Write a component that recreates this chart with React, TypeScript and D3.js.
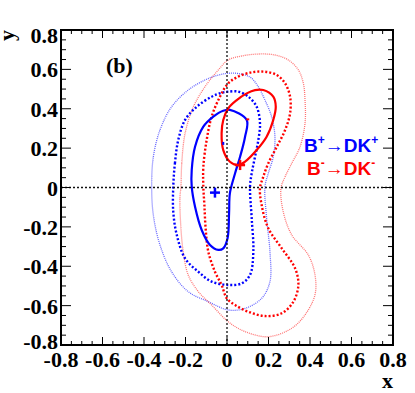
import React from "react";
import * as d3 from "d3";

const width = 415;
const height = 393;
const margin = { top: 30, right: 22, bottom: 48, left: 61 };

// axis ticks
const tickValues = [-0.8, -0.6, -0.4, -0.2, 0, 0.2, 0.4, 0.6, 0.8];
const tickLabels = ["-0.8", "-0.6", "-0.4", "-0.2", "0", "0.2", "0.4", "0.6", "0.8"];

// B+ -> DK+ contours (x, y)
const bPlus1Sigma: [number, number][] = [
  [0.014, 0.394], [0.095, 0.343], [0.087, 0.258], [0.063, 0.156], [0.039, 0.072],
  [0.014, -0.029], [0.01, -0.13], [0.003, -0.256], [-0.018, -0.309], [-0.042, -0.317],
  [-0.082, -0.292], [-0.122, -0.216], [-0.154, -0.098], [-0.17, 0.004], [-0.17, 0.089],
  [-0.154, 0.207], [-0.114, 0.309], [-0.066, 0.36], [-0.018, 0.39],
];
const bPlus2Sigma: [number, number][] = [
  [-0.259, 0.004], [-0.251, 0.123], [-0.235, 0.241], [-0.202, 0.343], [-0.146, 0.41],
  [-0.074, 0.461], [-0.026, 0.481], [0.006, 0.487], [0.054, 0.487], [0.103, 0.461],
  [0.143, 0.41], [0.159, 0.326], [0.151, 0.241], [0.135, 0.156], [0.119, 0.072],
  [0.111, 0.004], [0.119, -0.156], [0.127, -0.326], [0.111, -0.444], [0.071, -0.487],
  [0.006, -0.495], [-0.074, -0.478], [-0.138, -0.428], [-0.202, -0.36], [-0.242, -0.241],
  [-0.259, -0.123],
];
const bPlus3Sigma: [number, number][] = [
  [-0.363, 0.004], [-0.355, 0.156], [-0.323, 0.292], [-0.267, 0.41], [-0.187, 0.495],
  [-0.106, 0.546], [-0.042, 0.571], [0.006, 0.58], [0.053, 0.579], [0.111, 0.561],
  [0.149, 0.515], [0.183, 0.444], [0.215, 0.36], [0.231, 0.258], [0.223, 0.156],
  [0.199, 0.072], [0.183, 0.004], [0.191, -0.156], [0.207, -0.326], [0.207, -0.478],
  [0.167, -0.563], [0.087, -0.614], [0.006, -0.622], [-0.09, -0.58], [-0.187, -0.529],
  [-0.267, -0.428], [-0.323, -0.292], [-0.355, -0.14],
];

// B- -> DK- contours (x, y)
const bMinus1Sigma: [number, number][] = [
  [0.175, 0.495], [0.223, 0.461], [0.235, 0.41], [0.223, 0.343], [0.191, 0.258],
  [0.143, 0.19], [0.087, 0.131], [0.054, 0.114], [0.014, 0.131], [-0.018, 0.19],
  [-0.026, 0.275], [-0.018, 0.343], [0.006, 0.402], [0.047, 0.444], [0.095, 0.478],
  [0.135, 0.495],
];
const bMinus2Sigma: [number, number][] = [
  [-0.114, 0.004], [-0.114, 0.106], [-0.098, 0.241], [-0.074, 0.36], [-0.034, 0.461],
  [0.006, 0.529], [0.054, 0.563], [0.119, 0.585], [0.183, 0.588], [0.24, 0.571],
  [0.28, 0.529], [0.304, 0.461], [0.304, 0.377], [0.28, 0.292], [0.24, 0.207],
  [0.199, 0.123], [0.175, 0.055], [0.159, -0.004], [0.167, -0.089], [0.199, -0.207],
  [0.264, -0.309], [0.328, -0.41], [0.344, -0.495], [0.32, -0.58], [0.264, -0.639],
  [0.183, -0.653], [0.103, -0.631], [0.039, -0.597], [-0.001, -0.563], [-0.026, -0.495],
  [-0.058, -0.428], [-0.09, -0.326], [-0.103, -0.207], [-0.109, -0.089],
];
const bMinus3Sigma: [number, number][] = [
  [-0.222, 0.004], [-0.218, 0.123], [-0.202, 0.275], [-0.162, 0.41], [-0.106, 0.512],
  [-0.042, 0.597], [0.006, 0.648], [0.071, 0.668], [0.151, 0.678], [0.231, 0.673],
  [0.295, 0.648], [0.344, 0.597], [0.368, 0.529], [0.376, 0.444], [0.376, 0.326],
  [0.352, 0.207], [0.312, 0.123], [0.28, 0.055], [0.26, -0.004], [0.271, -0.123],
  [0.312, -0.241], [0.392, -0.343], [0.424, -0.444], [0.424, -0.545], [0.376, -0.647],
  [0.312, -0.715], [0.199, -0.758], [0.087, -0.732], [0.006, -0.682], [-0.074, -0.597],
  [-0.138, -0.529], [-0.187, -0.444], [-0.211, -0.326], [-0.223, -0.19], [-0.227, -0.055],
];

// best-fit points and secondary markers
const bPlusCenter: [number, number] = [-0.058, -0.026];
const bMinusCenter: [number, number] = [0.063, 0.114];
const bPlusDot: [number, number] = [-0.018, 0.224];
const bMinusDot: [number, number] = [0.1, 0.346];

const BLUE = "#0000ff";
const RED = "#ff0000";
const serif = "'Liberation Serif', 'Times New Roman', serif";
const sans = "'Liberation Sans', Arial, sans-serif";

const App = () => {
  const x = d3.scaleLinear().domain([-0.8, 0.8]).range([margin.left, width - margin.right]);
  const y = d3.scaleLinear().domain([-0.8, 0.8]).range([height - margin.bottom, margin.top]);
  const x0 = x(-0.8), x1 = x(0.8), y0 = y(-0.8), y1 = y(0.8);

  const line = d3
    .line<[number, number]>()
    .x((d) => x(d[0]))
    .y((d) => y(d[1]))
    .curve(d3.curveCatmullRomClosed.alpha(0.5));

  const minorTicks = d3.range(-16, 17).map((i) => i * 0.05);
  const isMajor = (v: number) => Math.abs(v * 5 - Math.round(v * 5)) < 1e-6;

  // end labels are pulled inside the frame a little, like the original
  const yLabelShift = (v: number) => (v === 0.8 ? 5 : v === -0.8 ? -4 : 0);

  const cross = (p: [number, number], color: string, key: string) => {
    const cx = x(p[0]);
    const cy = y(p[1]);
    return (
      <g key={key} stroke={color} strokeWidth={2.5}>
        <line x1={cx - 5} x2={cx + 5} y1={cy} y2={cy} />
        <line x1={cx} x2={cx} y1={cy - 5} y2={cy + 5} />
      </g>
    );
  };

  return (
    <svg
      width={width}
      height={height}
      style={{ position: "absolute", left: 0, top: 0, background: "#fff" }}
    >
      <rect x={0} y={0} width={width} height={height} fill="#fff" />

      {/* outer (light) contours */}
      <path d={line(bPlus3Sigma) || ""} fill="none" stroke={BLUE} strokeOpacity={0.6} strokeWidth={1.3} strokeDasharray="1,1" />
      <path d={line(bMinus3Sigma) || ""} fill="none" stroke={RED} strokeOpacity={0.55} strokeWidth={1.3} strokeDasharray="1,1" />

      {/* middle dotted contours */}
      <path d={line(bPlus2Sigma) || ""} fill="none" stroke={BLUE} strokeWidth={2.4} strokeDasharray="2,2" />
      <path d={line(bMinus2Sigma) || ""} fill="none" stroke={RED} strokeWidth={2.4} strokeDasharray="2,2" />

      {/* inner solid contours */}
      <path d={line(bPlus1Sigma) || ""} fill="none" stroke={BLUE} strokeWidth={2.2} />
      <path d={line(bMinus1Sigma) || ""} fill="none" stroke={RED} strokeWidth={2.2} />

      {/* zero lines */}
      <line x1={x0} x2={x1} y1={y(0)} y2={y(0)} stroke="#111" strokeWidth={1.3} strokeDasharray="2,2" />
      <line x1={x(0)} x2={x(0)} y1={y0} y2={y1} stroke="#111" strokeWidth={1.3} strokeDasharray="2,2" />

      {/* markers */}
      {cross(bPlusCenter, BLUE, "bp")}
      {cross(bMinusCenter, RED, "bm")}
      <rect x={x(bPlusDot[0]) - 1} y={y(bPlusDot[1]) - 1.5} width={2} height={3} fill={BLUE} />
      <rect x={x(bMinusDot[0]) - 1.5} y={y(bMinusDot[1]) - 1} width={3} height={2} fill={RED} />

      {/* ticks on all four sides */}
      <g stroke="#000" strokeWidth={1}>
        {minorTicks.map((v) => {
          const major = isMajor(v);
          const lx = major ? 8 : 4;
          const ly = major ? 10 : 5;
          return (
            <g key={`t${v.toFixed(2)}`}>
              <line x1={x(v)} x2={x(v)} y1={y0} y2={y0 - lx} />
              <line x1={x(v)} x2={x(v)} y1={y1} y2={y1 + lx} />
              <line x1={x0} x2={x0 + ly} y1={y(v)} y2={y(v)} />
              <line x1={x1} x2={x1 - ly} y1={y(v)} y2={y(v)} />
            </g>
          );
        })}
      </g>

      {/* frame */}
      <rect x={x0} y={y1} width={x1 - x0} height={y0 - y1} fill="none" stroke="#000" strokeWidth={2} />

      {/* tick labels */}
      <g fontFamily={serif} fontWeight="bold" fontSize={22} fill="#000">
        {tickValues.map((v, i) => (
          <text key={`xl${i}`} x={x(v)} y={y0 + 22} textAnchor="middle">
            {tickLabels[i]}
          </text>
        ))}
        {tickValues.map((v, i) => (
          <text key={`yl${i}`} x={x0 - 3} y={y(v) + 8 + yLabelShift(v)} textAnchor="end">
            {tickLabels[i]}
          </text>
        ))}
        <text x={x1} y={388} textAnchor="end" fontSize={22}>
          x
        </text>
        <text transform={`translate(14, ${y1}) rotate(-90)`} textAnchor="end" fontSize={22}>
          y
        </text>
        <text x={106} y={73} fontSize={22}>
          (b)
        </text>
      </g>

      {/* legend */}
      <g fontFamily={sans} fontWeight="bold" fontSize={19}>
        <text x={304} y={152} fill={BLUE}>
          B<tspan fontSize={12} dy={-8}>+</tspan>
          <tspan dy={8} fontWeight="normal">→</tspan>DK<tspan fontSize={12} dy={-8}>+</tspan>
        </text>
        <text x={307} y={175} fill={RED}>
          B<tspan fontSize={12} dy={-8}>-</tspan>
          <tspan dy={8} fontWeight="normal">→</tspan>DK<tspan fontSize={12} dy={-8}>-</tspan>
        </text>
      </g>
    </svg>
  );
};

export default App;
